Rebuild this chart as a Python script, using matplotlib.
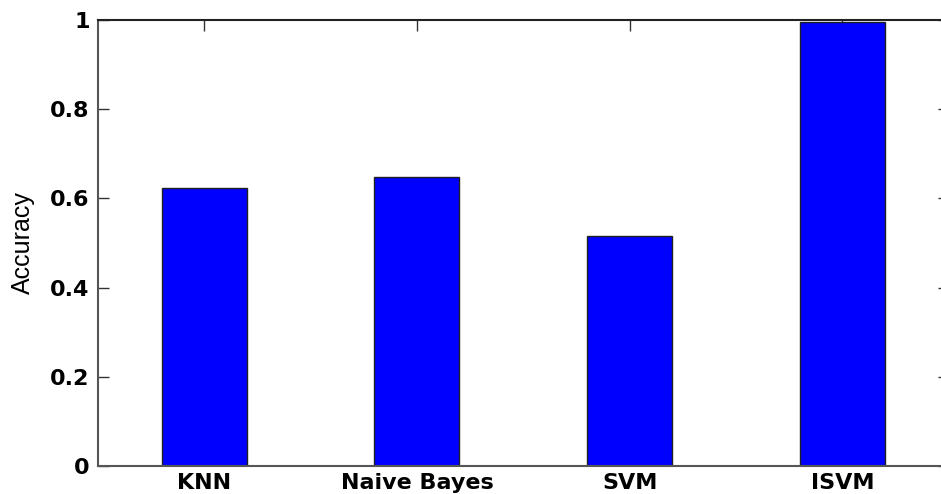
import matplotlib
matplotlib.use("Agg")
from matplotlib import pyplot as plt

# Data
methods = ["KNN", "Naive Bayes", "SVM", "ISVM"]
accuracy = [0.624, 0.648, 0.515, 0.995]
y_ticks = [0, 0.2, 0.4, 0.6, 0.8, 1]
y_tick_labels = ["0", "0.2", "0.4", "0.6", "0.8", "1"]

plt.rcParams["font.family"] = ["Liberation Sans", "DejaVu Sans"]

fig = plt.figure(figsize=(9.41, 4.94), dpi=100)
# axes run past the right edge, like the cropped original
ax = fig.add_axes([0.1041, 0.0567, 0.904, 0.9028])

positions = list(range(1, len(methods) + 1))
ax.bar(positions, accuracy, width=0.4, color="#0000ff",
       edgecolor="#202020", linewidth=1.0, zorder=2)

ax.set_xlim(0.5, 4.5)
ax.set_ylim(0, 1)
ax.set_xticks(positions)
ax.set_xticklabels(methods, fontsize=16, fontweight="bold", family="DejaVu Sans")
ax.set_yticks(y_ticks)
ax.set_yticklabels(y_tick_labels, fontsize=16, fontweight="bold", family="DejaVu Sans")
ax.set_ylabel("Accuracy", fontsize=18, labelpad=11)

# MATLAB style box with inward ticks on all sides
ax.tick_params(direction="in", length=8, width=1, color="#333333",
               top=True, right=True, pad=6)
ax.tick_params(axis="x", pad=5)
for side in ax.spines.values():
    side.set_color("#555555")
    side.set_linewidth(1.5)
ax.spines["top"].set_color("#222222")

fig.savefig("out.png", dpi=100)
